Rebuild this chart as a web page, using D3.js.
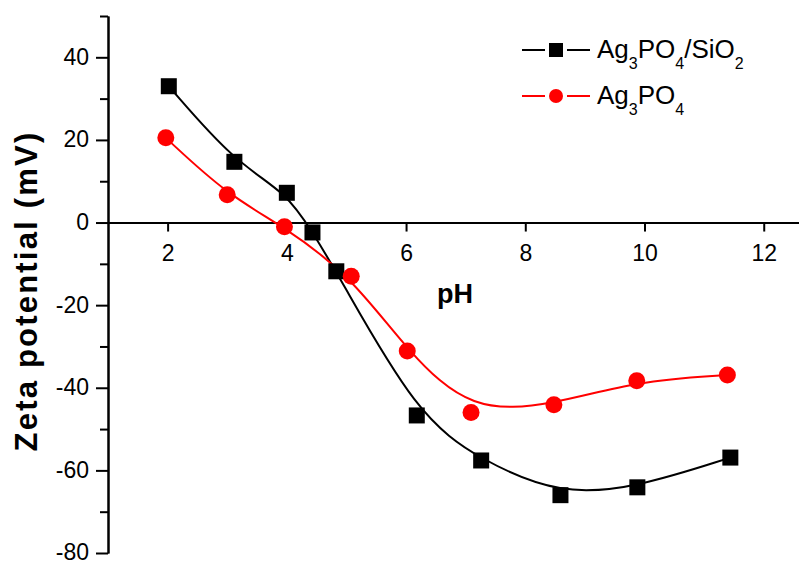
<!DOCTYPE html>
<html lang="en">
<head>
<meta charset="UTF-8">
<title>Zeta potential vs pH</title>
<style>
  body { margin:0; background:#fff; }
  svg { display:block; font-family: Arial, "Liberation Sans", sans-serif; }
  .axis path, .axis line { stroke:#000; stroke-width:2; }
  .axis text { font-size:23px; fill:#000; }
</style>
</head>
<body>
<svg id="chart" width="799" height="562"></svg>
<script src="https://cdnjs.cloudflare.com/ajax/libs/d3/7.8.5/d3.min.js"></script>
<script>
// values
var phComposite = [2.02, 3.12, 4.0, 4.43, 4.83, 6.18, 7.26, 8.59, 9.88, 11.44];
var zetaComposite = [33.0, 14.7, 7.2, -2.4, -11.8, -46.7, -57.6, -66.0, -64.1, -56.9];
var phPure = [1.97, 3.0, 3.96, 5.08, 6.02, 7.09, 8.48, 9.87, 11.39];
var zetaPure = [20.5, 6.7, -1.0, -13.0, -31.1, -46.0, -44.1, -38.3, -36.9];
var xTicks = [2, 4, 6, 8, 10, 12];
var yTicks = [40, 20, 0, -20, -40, -60, -80];
var yMinor = [50, 30, 10, -10, -30, -50, -70];

var svg = d3.select('#chart');

var x = d3.scaleLinear().domain([1, 12.6]).range([108, 799.5]);
var y = d3.scaleLinear().domain([-80, 50]).range([553, 16]);

// y axis: minor ticks then major
svg.append('g')
  .attr('class', 'axis')
  .attr('transform', 'translate(108,0)')
  .call(d3.axisLeft(y).tickValues(yMinor).tickSize(8).tickSizeOuter(0).tickFormat(''));
svg.append('g')
  .attr('class', 'axis')
  .attr('transform', 'translate(108,0)')
  .call(d3.axisLeft(y).tickValues(yTicks).tickSize(12).tickSizeOuter(0).tickPadding(7).tickFormat(d => String(d)))
  .selectAll('text').attr('dy', '0.3em');

// x axis sits on zero line
svg.append('g')
  .attr('class', 'axis')
  .attr('transform', 'translate(0,' + y(0) + ')')
  .call(d3.axisBottom(x).tickValues(xTicks).tickSize(9).tickSizeOuter(0).tickPadding(13));

svg.append('text')
  .attr('x', 455).attr('y', 303)
  .attr('text-anchor', 'middle')
  .style('font-size', '27px').style('font-weight', 'bold')
  .text('pH');

svg.append('text')
  .attr('transform', 'translate(37,291) rotate(-90)')
  .attr('text-anchor', 'middle')
  .style('font-size', '31px').style('font-weight', 'bold')
  .style('letter-spacing', '2.2px')
  .text('Zeta potential (mV)');

var line = d3.line()
  .x(d => x(d[0]))
  .y(d => y(d[1]))
  .curve(d3.curveBasis);

var composite = d3.zip(phComposite, zetaComposite);
var pure = d3.zip(phPure, zetaPure);

svg.append('path')
  .datum(composite)
  .attr('d', line)
  .attr('fill', 'none').attr('stroke', '#000').attr('stroke-width', 2);
svg.append('path')
  .datum(pure)
  .attr('d', line)
  .attr('fill', 'none').attr('stroke', '#ff0000').attr('stroke-width', 2);

svg.selectAll('rect.pt')
  .data(composite)
  .enter().append('rect')
  .attr('class', 'pt')
  .attr('x', d => x(d[0]) - 8)
  .attr('y', d => y(d[1]) - 8)
  .attr('width', 16).attr('height', 16)
  .attr('fill', '#000');

svg.selectAll('circle.pt')
  .data(pure)
  .enter().append('circle')
  .attr('class', 'pt')
  .attr('cx', d => x(d[0]))
  .attr('cy', d => y(d[1]))
  .attr('r', 8.5)
  .attr('fill', '#ff0000');

// legend
var leg = svg.append('g');
[[522, 545], [567, 590]].forEach(function(seg) {
  leg.append('line').attr('x1', seg[0]).attr('x2', seg[1]).attr('y1', 50).attr('y2', 50)
    .attr('stroke', '#000').attr('stroke-width', 2);
  leg.append('line').attr('x1', seg[0]).attr('x2', seg[1]).attr('y1', 96).attr('y2', 96)
    .attr('stroke', '#ff0000').attr('stroke-width', 2);
});
leg.append('rect').attr('x', 549).attr('y', 43).attr('width', 14).attr('height', 14)
  .attr('fill', '#000');
leg.append('circle').attr('cx', 556).attr('cy', 96).attr('r', 7)
  .attr('fill', '#ff0000');

function chem(g, xPos, yPos, parts) {
  var t = g.append('text').attr('x', xPos).attr('y', yPos).style('font-size', '26px');
  parts.forEach(function(p) {
    var s = t.append('tspan').text(p[0]);
    if (p[1]) s.style('font-size', '16px').attr('dy', 11);
    else s.attr('dy', p[2] || 0);
  });
}
chem(leg, 597, 58, [['Ag'], ['3', true], ['PO', false, -11], ['4', true], ['/SiO', false, -11], ['2', true]]);
chem(leg, 597, 104, [['Ag'], ['3', true], ['PO', false, -11], ['4', true]]);
</script>
</body>
</html>
